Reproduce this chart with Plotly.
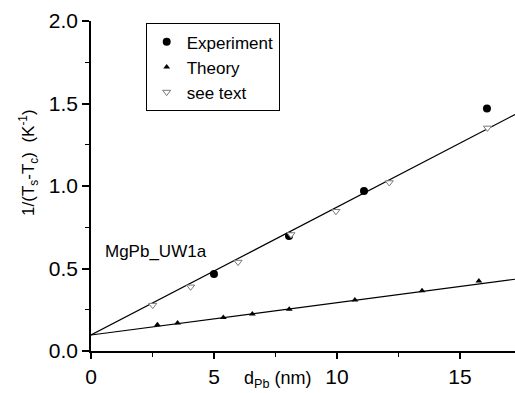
import plotly.graph_objects as go

# ---- data ----
exp_x = [5.0, 8.05, 11.1, 16.1]
exp_y = [0.466, 0.697, 0.969, 1.469]

theory_x = [2.70, 3.52, 5.38, 6.56, 8.06, 10.73, 13.46, 15.77]
theory_y = [0.159, 0.170, 0.203, 0.224, 0.253, 0.309, 0.365, 0.424]

seetext_x = [2.51, 4.05, 5.98, 8.13, 9.96, 12.13, 16.12]
seetext_y = [0.278, 0.389, 0.539, 0.706, 0.847, 1.021, 1.352]

# linear fits (intercept, slope)
fit_upper = (0.097, 0.0775)
fit_lower = (0.097, 0.0196)

x_range = [0, 17.24]
y_range = [0, 2.0]
x_ticks = [0, 5, 10, 15]
y_ticks = [0.0, 0.5, 1.0, 1.5, 2.0]
y_ticklabels = ["0.0", "0.5", "1.0", "1.5", "2.0"]

FONT = "Liberation Sans, Arial, Helvetica, sans-serif"

fig = go.Figure()

for b0, b1 in (fit_upper, fit_lower):
    fx = x_range
    fy = [b0 + b1 * v for v in fx]
    fig.add_trace(go.Scatter(x=fx, y=fy, mode="lines", showlegend=False,
                             line=dict(color="black", width=1.2), hoverinfo="skip"))

fig.add_trace(go.Scatter(x=exp_x, y=exp_y, mode="markers", name="Experiment",
                         marker=dict(symbol="circle", size=8, color="black")))
fig.add_trace(go.Scatter(x=theory_x, y=theory_y, mode="markers", name="Theory",
                         marker=dict(symbol="triangle-up", size=6, color="black")))
fig.add_trace(go.Scatter(x=seetext_x, y=seetext_y, mode="markers", name="see text",
                         marker=dict(symbol="triangle-down", size=7, color="white",
                                     line=dict(color="#7a7a7a", width=1))))

fig.add_annotation(x=0.49, y=0.30, xref="x", yref="paper", text="MgPb_UW1a",
                   showarrow=False, xanchor="left", yanchor="middle",
                   font=dict(family=FONT, size=17, color="black"))

fig.add_annotation(x=0.439, y=-0.045, xref="paper", yref="paper",
                   text="d<sub>Pb</sub> (nm)", showarrow=False,
                   xanchor="center", yanchor="top",
                   font=dict(family=FONT, size=18, color="black"))

fig.add_annotation(x=(29 - 91) / 424, y=0.57, xref="paper", yref="paper",
                   text="1/(T<sub>s</sub>-T<sub>c</sub>)  (K<sup>-1</sup>)",
                   showarrow=False, textangle=-90,
                   xanchor="center", yanchor="middle",
                   font=dict(family=FONT, size=17, color="black"))

fig.update_layout(
    width=515, height=393,
    margin=dict(l=91, r=0, t=21, b=42),
    paper_bgcolor="white", plot_bgcolor="white",
    font=dict(family=FONT, color="black"),
    legend=dict(x=0.129, y=0.993, xanchor="left", yanchor="top",
                bordercolor="black", borderwidth=1, bgcolor="white",
                font=dict(family=FONT, size=17, color="black"),
                tracegroupgap=0, itemwidth=30),
    xaxis=dict(range=x_range, tickvals=x_ticks, showgrid=False, zeroline=False,
               showline=True, linecolor="black", linewidth=1.5,
               ticks="outside", ticklen=6, tickwidth=1.5, tickcolor="black",
               minor=dict(dtick=2.5, ticks="outside", ticklen=4, tickwidth=1.2,
                          tickcolor="black"),
               tickfont=dict(family=FONT, size=21, color="black")),
    yaxis=dict(range=y_range, tickvals=y_ticks, ticktext=y_ticklabels,
               showgrid=False, zeroline=False,
               showline=True, linecolor="black", linewidth=1.5,
               ticks="outside", ticklen=7, tickwidth=1.5, tickcolor="black",
               minor=dict(dtick=0.25, ticks="outside", ticklen=4, tickwidth=1.2,
                          tickcolor="black"),
               tickfont=dict(family=FONT, size=21, color="black")),
)

fig.write_html("out.html")
